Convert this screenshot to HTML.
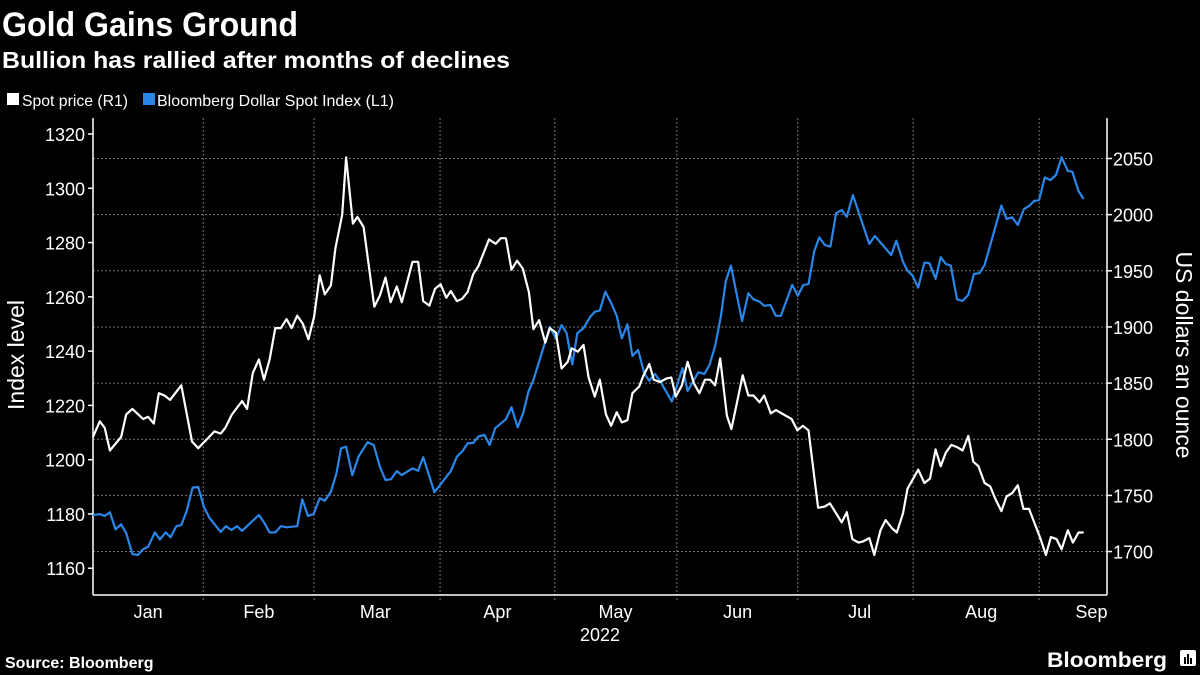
<!DOCTYPE html>
<html><head><meta charset="utf-8"><style>
html,body{margin:0;padding:0;background:#000;}
svg{display:block;font-family:"Liberation Sans",sans-serif;}
</style></head><body>
<svg id="chart" width="1200" height="675" viewBox="0 0 1200 675" xmlns="http://www.w3.org/2000/svg">
<rect x="0" y="0" width="1200" height="675" fill="#000"/>
<text x="2" y="36" fill="#fff" font-size="34" font-weight="bold" textLength="296" lengthAdjust="spacingAndGlyphs">Gold Gains Ground</text>
<text x="2" y="68" fill="#fff" font-size="23" font-weight="bold" textLength="508" lengthAdjust="spacingAndGlyphs">Bullion has rallied after months of declines</text>
<g>
<g><rect x="7" y="93" width="12" height="12" fill="#fff"/><text x="22" y="106" fill="#fff" font-size="16" textLength="106" lengthAdjust="spacingAndGlyphs">Spot price (R1)</text></g>
<g><rect x="143" y="93" width="12" height="12" fill="#2a86e8"/><text x="157" y="106" fill="#fff" font-size="16" textLength="237" lengthAdjust="spacingAndGlyphs">Bloomberg Dollar Spot Index (L1)</text></g>
</g>
<g id="grid"></g>
<g id="axes"></g>
<g id="series"></g>
<text transform="translate(24,355) rotate(-90)" text-anchor="middle" fill="#fff" font-size="23">Index level</text>
<text transform="translate(1176,355) rotate(90)" text-anchor="middle" fill="#fff" font-size="23">US dollars an ounce</text>
<text x="600" y="641" text-anchor="middle" fill="#fff" font-size="18">2022</text>
<text x="5" y="668" fill="#fff" font-size="16" font-weight="bold">Source: Bloomberg</text>
<g>
<text x="1047" y="667" fill="#fff" font-size="21" font-weight="bold" textLength="120" lengthAdjust="spacingAndGlyphs">Bloomberg</text>
<rect x="1180" y="650" width="16" height="16" rx="2" fill="#fff"/>
<rect x="1184" y="657" width="2" height="7" fill="#000"/><rect x="1187" y="654" width="2" height="10" fill="#000"/><rect x="1190" y="658" width="2" height="6" fill="#000"/>
</g>
</svg>
<script>
const goldT=[0,1.2,2.1,3.0,5.0,5.9,7.0,8.9,9.8,10.8,11.7,12.7,13.7,15.7,17.6,18.7,21.6,22.7,23.5,24.7,26.5,27.4,28.4,29.5,30.4,31.4,32.4,33.4,34.4,35.3,36.3,37.3,38.3,39.3,40.3,41.2,42.3,43.1,44.3,45.0,46.2,47.0,48.1,50.0,51.0,52.0,52.9,54.0,54.9,56.8,57.8,58.7,59.8,60.8,61.8,62.8,63.6,64.7,65.6,66.6,67.6,68.5,70.4,71.6,72.5,73.4,74.4,75.4,76.4,77.5,78.3,79.3,80.4,81.2,82.3,83.3,84.4,85.1,86.2,87.2,88.1,89.2,90.1,91.2,92.1,93.1,94.0,95.0,95.9,97.1,97.8,98.9,99.7,100.8,101.9,102.8,103.6,104.7,105.7,106.8,107.8,108.8,109.7,110.6,111.5,112.7,113.5,115.5,116.5,117.4,118.5,119.3,120.5,121.4,124.2,125.2,126.2,127.2,128.9,130.1,131.0,133.1,134.0,135.0,136.1,136.9,138.0,138.9,140.0,140.9,142.0,142.9,144.0,144.8,145.7,146.7,147.8,148.8,149.8,150.7,151.6,152.6,153.6,154.6,155.6,156.5,157.4,158.5,159.5,160.5,161.5,162.4,163.4,164.4,165.4,166.4,168.4,169.4,170.3,171.3,172.2,173.3,174.2,175.2,176.1];
const goldV=[1802,1816,1810,1790,1802,1822,1827,1818,1820,1814,1841,1839,1835,1848,1798,1792,1807,1805,1810,1822,1834,1827,1859,1871,1853,1871,1899,1899,1907,1899,1910,1903,1889,1909,1946,1929,1937,1970,2000,2051,1992,1998,1989,1918,1928,1944,1922,1936,1922,1958,1958,1923,1919,1934,1938,1926,1932,1923,1925,1931,1947,1954,1978,1974,1979,1979,1951,1959,1952,1931,1898,1906,1886,1899,1895,1863,1869,1881,1878,1884,1855,1838,1853,1822,1812,1824,1815,1817,1841,1847,1856,1867,1853,1851,1854,1855,1838,1848,1869,1850,1841,1853,1853,1848,1872,1821,1809,1857,1839,1839,1833,1839,1823,1826,1818,1808,1812,1808,1739,1740,1743,1726,1735,1711,1708,1709,1712,1697,1719,1728,1721,1717,1734,1756,1764,1773,1761,1765,1791,1776,1788,1795,1793,1790,1803,1780,1776,1761,1758,1746,1736,1749,1752,1759,1738,1738,1712,1697,1713,1711,1702,1719,1708,1717,1717];
const usdT=[0,1.2,2.1,3.0,4.0,5.0,5.9,7.0,8.0,8.9,9.8,11.0,11.9,12.9,13.8,14.8,15.7,16.7,17.7,18.7,19.7,20.7,22.7,23.6,24.6,25.6,26.5,29.5,30.4,31.4,32.4,33.4,34.4,36.3,37.2,38.2,39.2,40.3,41.2,42.3,43.3,44.1,45.0,46.1,47.2,48.8,49.9,51.0,52.0,53.0,54.0,54.9,56.8,57.8,58.7,60.7,61.7,63.6,64.7,65.7,66.6,67.6,68.5,69.6,70.5,71.5,73.4,74.4,75.5,76.5,77.4,78.3,81.2,82.3,83.3,84.2,85.2,86.1,87.2,88.4,89.2,90.1,91.1,92.2,93.1,94.0,95.0,95.9,96.9,98.0,98.9,99.9,100.9,102.9,104.8,105.7,107.6,108.7,109.6,110.6,111.6,112.5,113.4,115.4,116.5,117.4,118.5,119.3,120.4,121.4,122.3,124.3,125.3,126.3,127.2,128.2,129.1,130.1,131.1,132.1,133.1,134.0,135.1,138.0,139.0,141.9,142.8,144.0,144.8,145.7,146.7,147.8,148.7,149.8,150.7,151.6,152.5,153.6,154.6,155.6,156.6,157.6,158.5,161.5,162.4,163.4,164.4,165.5,166.4,167.3,168.2,169.2,170.2,171.2,172.2,173.3,174.1,175.2,176.1];
const usdV=[1179.6,1179.9,1179.3,1180.6,1174.3,1176.2,1172.9,1165.2,1164.9,1167,1167.9,1173.2,1170.6,1173.2,1171.4,1175.5,1175.9,1181.4,1189.7,1190,1182.7,1178.6,1173.4,1175.5,1174.1,1175.5,1173.8,1179.6,1176.9,1173.2,1173.2,1175.5,1175.1,1175.5,1185.4,1179.3,1179.9,1185.8,1184.9,1188.2,1195.2,1204.2,1204.8,1194.3,1201.1,1206.4,1205.4,1197.4,1192.5,1192.8,1195.8,1194.3,1196.8,1195.9,1200.9,1188,1190.7,1195.8,1201.1,1203.2,1206,1206.2,1208.5,1209.1,1205.4,1211.6,1214.9,1219.3,1211.9,1217.3,1225,1229.3,1249,1244.7,1249.6,1246.6,1235.1,1246.6,1248.4,1252.7,1254.5,1255,1261.9,1257.4,1253,1244.7,1249.9,1238.2,1240.4,1231.8,1229.1,1231.6,1228.7,1221.4,1233.7,1225.3,1232.2,1231.6,1234.9,1241.9,1252.7,1265.8,1271.5,1251.1,1261.3,1259.1,1258.2,1256.7,1257,1253,1253,1264.4,1260.4,1264.4,1264.7,1276.6,1281.9,1279.1,1278.5,1290.8,1292,1289.5,1297.5,1279.5,1282.4,1275.4,1280.7,1272.9,1269.6,1267.8,1263.4,1272.6,1272.4,1266.6,1274.6,1272.1,1271.5,1259.1,1258.5,1260.7,1268.4,1268.7,1271.7,1293.6,1288.7,1289.3,1286.5,1292.3,1293.5,1295.3,1295.7,1304,1303,1304.9,1311.4,1306.4,1306.1,1299,1296];
const leftTicks=[1160,1180,1200,1220,1240,1260,1280,1300,1320];
const rightTicks=[1700,1750,1800,1850,1900,1950,2000,2050];
const monthStarts=[19.6,39.3,61.7,82.1,103.8,125.3,145.8,168.2];
const monthLabels=["Jan","Feb","Mar","Apr","May","Jun","Jul","Aug","Sep"];
const monthLabelT=[9.8,29.5,50.2,71.9,92.9,114.6,136.3,157.9,177.5];

const NS="http://www.w3.org/2000/svg";
const X0=93,X1=1107,Y0=118,YB=595;
function xs(t){return 93+t*5.625;}
function yl(v){return 134+(1320-v)*2.714;}
function yr(v){return 158.5+(2050-v)*1.123;}
function mk(tag,attrs,parent){const e=document.createElementNS(NS,tag);for(const k in attrs)e.setAttribute(k,attrs[k]);parent.appendChild(e);return e;}
const grid=document.getElementById('grid'),axes=document.getElementById('axes'),series=document.getElementById('series');

rightTicks.forEach(v=>{
  const y=yr(v);
  const g=mk('line',{x1:X0,x2:X1,y1:y,y2:y,stroke:'#777','stroke-width':1,'stroke-dasharray':'2,2'},grid);
  
  
  const tk=mk('line',{x1:X1,x2:X1+5,y1:y,y2:y,stroke:'#fff','stroke-width':1.5},axes);
  
  
  const tx=mk('text',{x:X1+6,y:y+7,fill:'#fff','font-size':18},axes);
  
  
  tx.textContent=v;
});
leftTicks.forEach(v=>{
  const y=yl(v);
  const tk=mk('line',{x1:X0-5,x2:X0,y1:y,y2:y,stroke:'#fff','stroke-width':1.5},axes);
  
  
  const tx=mk('text',{x:X0-8,y:y+7,fill:'#fff','font-size':18,'text-anchor':'end'},axes);
  
  
  tx.textContent=v;
});
monthStarts.forEach(t=>{
  const x=xs(t);
  const g=mk('line',{x1:x,x2:x,y1:Y0,y2:YB+5,stroke:'#777','stroke-width':1,'stroke-dasharray':'2,2'},grid);
  
  
});
monthLabels.forEach((m,i)=>{
  const tx=mk('text',{x:xs(monthLabelT[i]),y:618,fill:'#fff','font-size':18,'text-anchor':'middle'},axes);
  
  
  tx.textContent=m;
});
const la=mk('line',{x1:X0,x2:X0,y1:Y0,y2:YB,stroke:'#fff','stroke-width':1.5},axes);


const ra=mk('line',{x1:X1,x2:X1,y1:Y0,y2:YB,stroke:'#fff','stroke-width':1.5},axes);


const ba=mk('line',{x1:X0,x2:X1,y1:YB,y2:YB,stroke:'#fff','stroke-width':1.5},axes);



const up=mk('polyline',{points:usdT.map((t,i)=>xs(t).toFixed(1)+','+yl(usdV[i]).toFixed(1)).join(' '),fill:'none',stroke:'#2a86e8','stroke-width':2.2,'stroke-linejoin':'round'},series);


const gp=mk('polyline',{points:goldT.map((t,i)=>xs(t).toFixed(1)+','+yr(goldV[i]).toFixed(1)).join(' '),fill:'none',stroke:'#fff','stroke-width':2.2,'stroke-linejoin':'round'},series);


</script>
</body></html>
